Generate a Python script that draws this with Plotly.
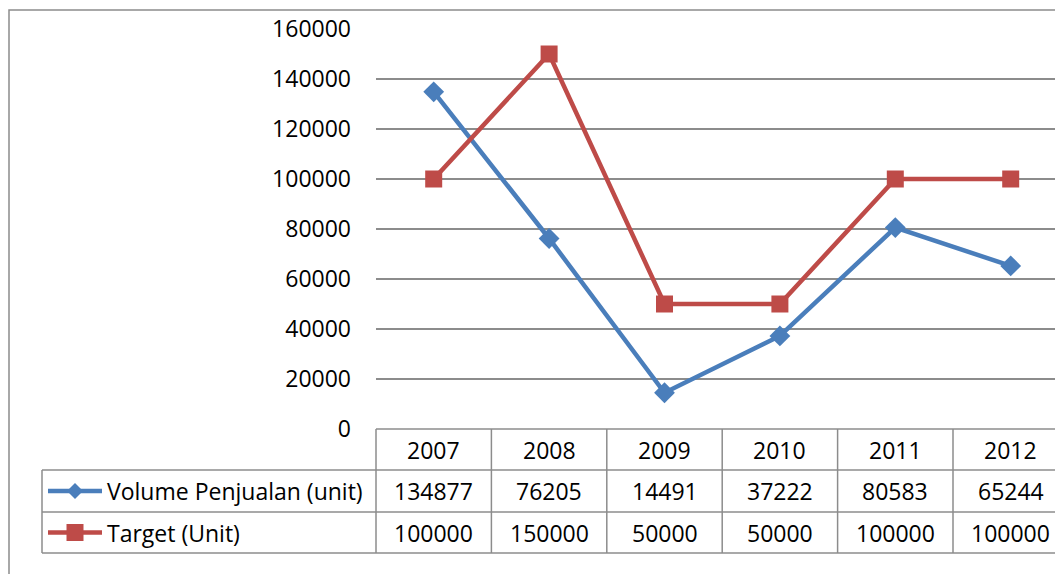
import plotly.graph_objects as go

years = ["2007", "2008", "2009", "2010", "2011", "2012"]
volume = [134877, 76205, 14491, 37222, 80583, 65244]
target = [100000, 150000, 50000, 50000, 100000, 100000]
series_names = ["Volume Penjualan (unit)", "Target (Unit)"]
y_ticks = [0, 20000, 40000, 60000, 80000, 100000, 120000, 140000, 160000]

W, H = 1055, 574
PLOT_L, PLOT_T, PLOT_B = 376, 29, 429
ML, MR, MT, MB = PLOT_L, 0, PLOT_T, H - PLOT_B
PW, PH = W - ML - MR, H - MT - MB
COLW = 115.4
XMIN = -0.5
XMAX = XMIN + PW / COLW

BLUE = "#4A7EBB"
RED = "#BE4B48"
GRID = "#8C8C8C"
FONT = "Open Sans"
FS = 23


def px_x(p):
    return (p - PLOT_L) / PW


def px_y(p):
    return (PLOT_B - p) / PH


def col_x(v):
    return (v - XMIN) / (XMAX - XMIN)


fig = go.Figure()
fig.add_trace(go.Scatter(x=years, y=volume, name=series_names[0], mode="lines+markers",
                         line=dict(color=BLUE, width=4.5),
                         marker=dict(symbol="diamond", size=16, color=BLUE)))
fig.add_trace(go.Scatter(x=years, y=target, name=series_names[1], mode="lines+markers",
                         line=dict(color=RED, width=4.5),
                         marker=dict(symbol="square", size=17, color=RED)))

shapes = []
shapes.append(dict(type="rect", xref="paper", yref="paper", x0=px_x(9), x1=px_x(1100),
                   y0=px_y(620), y1=px_y(10), line=dict(color=GRID, width=1.5)))
row_lines = [429, 470, 512, 553]
for i, yl in enumerate(row_lines):
    x0 = col_x(-0.5) if i == 0 else px_x(42)
    shapes.append(dict(type="line", xref="paper", yref="paper", x0=x0, x1=px_x(1100),
                       y0=px_y(yl), y1=px_y(yl), line=dict(color=GRID, width=1.5)))
shapes.append(dict(type="line", xref="paper", yref="paper", x0=px_x(42), x1=px_x(42),
                   y0=px_y(470), y1=px_y(553), line=dict(color=GRID, width=1.5)))
for k in range(len(years) + 1):
    xv = col_x(k - 0.5)
    shapes.append(dict(type="line", xref="paper", yref="paper", x0=xv, x1=xv,
                       y0=px_y(429), y1=px_y(553), line=dict(color=GRID, width=1.5)))

row_c = [449.5, 491, 532.5]
for yc, col in [(row_c[1], BLUE), (row_c[2], RED)]:
    shapes.append(dict(type="line", xref="paper", yref="paper", x0=px_x(48), x1=px_x(102),
                       y0=px_y(yc), y1=px_y(yc), line=dict(color=col, width=4.5)))
cx, cy, d = 75, row_c[1], 8
shapes.append(dict(type="path", xref="paper", yref="paper",
                   path=f"M {px_x(cx-d)},{px_y(cy)} L {px_x(cx)},{px_y(cy-d)} L {px_x(cx+d)},{px_y(cy)} L {px_x(cx)},{px_y(cy+d)} Z",
                   fillcolor=BLUE, line=dict(color=BLUE, width=0)))
cx, cy, s = 75, row_c[2], 8.5
shapes.append(dict(type="rect", xref="paper", yref="paper", x0=px_x(cx - s), x1=px_x(cx + s),
                   y0=px_y(cy + s), y1=px_y(cy - s), fillcolor=RED, line=dict(color=RED, width=0)))

annotations = []
font = dict(family=FONT, size=FS, color="#000000")
for i, yr in enumerate(years):
    for txt, yc in [(yr, row_c[0]), (str(volume[i]), row_c[1]), (str(target[i]), row_c[2])]:
        annotations.append(dict(x=col_x(i), y=px_y(yc), xref="paper", yref="paper", text=txt,
                                showarrow=False, font=font, xanchor="center", yanchor="middle"))
for name, yc in zip(series_names, row_c[1:]):
    annotations.append(dict(x=px_x(105), y=px_y(yc), xref="paper", yref="paper", text=name,
                            showarrow=False, font=font, xanchor="left", yanchor="middle"))

fig.update_layout(
    width=W, height=H,
    margin=dict(l=ML, r=MR, t=MT, b=MB, pad=0),
    paper_bgcolor="white", plot_bgcolor="white",
    showlegend=False,
    font=font,
    shapes=shapes,
    annotations=annotations,
    xaxis=dict(type="category", range=[XMIN, XMAX], showticklabels=False, showgrid=False,
               zeroline=False, showline=False, ticks=""),
    yaxis=dict(range=[0, 160000], tickvals=y_ticks, showgrid=True, gridcolor=GRID, gridwidth=1.5,
               zeroline=False, showline=False, ticks="", ticklabelstandoff=24,
               tickfont=font, tickformat="d"),
)

fig.write_html("out.html", config={"displayModeBar": False},
               post_script="document.body.style.margin='0';document.body.style.overflow='hidden';")
